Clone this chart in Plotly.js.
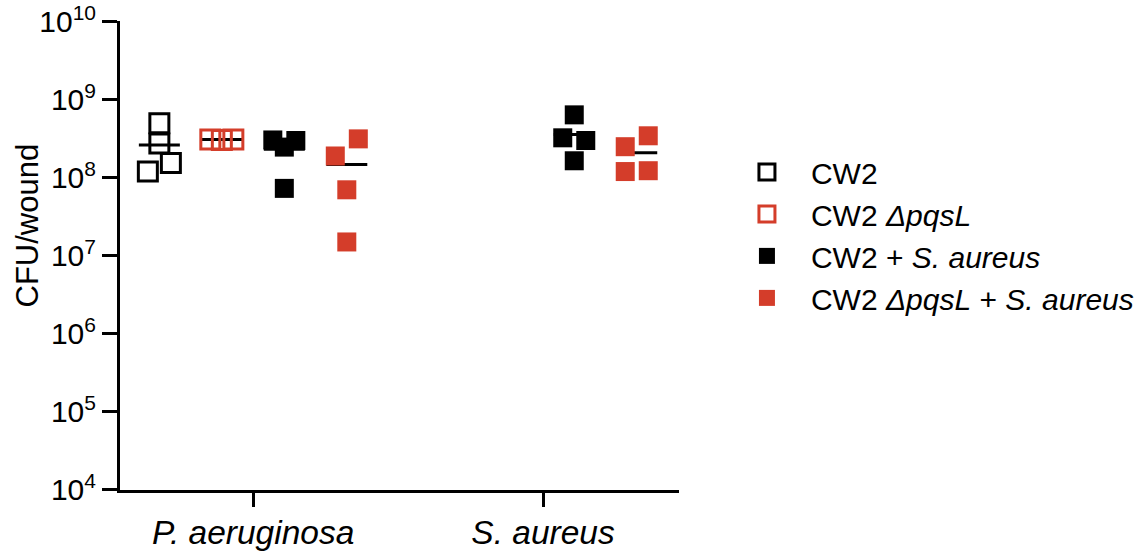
<!DOCTYPE html>
<html><head><meta charset="utf-8">
<script src="https://cdn.plot.ly/plotly-3.0.1.min.js"></script>
<style>html,body{margin:0;padding:0;background:#fff}#chart{width:1143px;height:554px}</style>
</head><body><div id="chart"></div>
<script>
// ---- data ----
const categories = ['P. aeruginosa', 'S. aureus'];
const seriesNames = ['CW2', 'CW2 <i>ΔpqsL</i>', 'CW2 + <i>S. aureus</i>', 'CW2 <i>ΔpqsL</i> + <i>S. aureus</i>'];
// CFU/wound per category (index matches categories)
const cw2 = [[5.0e8, 2.75e8, 1.2e8, 1.55e8], []];
const cw2PqsL = [[3.1e8, 3.05e8, 3.1e8], []];
const cw2SAureus = [[3.05e8, 2.47e8, 3.0e8, 7.3e7], [6.4e8, 3.25e8, 3.0e8, 1.65e8]];
const cw2PqsLSAureus = [[1.9e8, 3.15e8, 7.0e7, 1.5e7], [2.5e8, 3.45e8, 1.2e8, 1.23e8]];
const yTickVals = [1e4, 1e5, 1e6, 1e7, 1e8, 1e9, 1e10];
const yTitle = 'CFU/wound';

// ---- styles ----
const RED = '#d43d2a';
const styles = [
  {symbol: 'square-open', color: '#000000'},
  {symbol: 'square-open', color: RED},
  {symbol: 'square', color: '#000000'},
  {symbol: 'square', color: RED}
];
const allSeries = [cw2, cw2PqsL, cw2SAureus, cw2PqsLSAureus];
const colStep = 0.2155;     // distance between columns within a group (x units)
const spreadHalf = 0.0397;  // horizontal half-spread of overlapping points
const bandDecades = 0.24;   // points closer than this (log10) are spread sideways
const meanHalf = 0.0707;    // half-width of mean line

function spreadOffsets(vals) {
  const idx = vals.map((v, i) => i).sort((a, b) => vals[b] - vals[a]);
  const clusters = [];
  let cur = [];
  idx.forEach((i, k) => {
    if (k > 0 && Math.log10(vals[idx[k - 1]]) - Math.log10(vals[i]) >= bandDecades) {
      clusters.push(cur); cur = [];
    }
    cur.push(i);
  });
  if (cur.length) clusters.push(cur);
  const off = new Array(vals.length).fill(0);
  clusters.forEach(c => {
    c.sort((a, b) => a - b);
    const n = c.length;
    c.forEach((i, j) => { off[i] = n === 1 ? 0 : (j / (n - 1) - 0.5) * 2 * spreadHalf; });
  });
  return off;
}

const meanTraces = [];
const pointTraces = [];
allSeries.forEach((series, s) => {
  const xs = [], ys = [];
  series.forEach((vals, c) => {
    if (!vals.length) return;
    const center = c + (s - (allSeries.length - 1) / 2) * colStep;
    const off = spreadOffsets(vals);
    vals.forEach((v, i) => { xs.push(center + off[i]); ys.push(v); });
    const mean = vals.reduce((a, b) => a + b, 0) / vals.length;
    meanTraces.push({
      x: [center - meanHalf, center + meanHalf], y: [mean, mean],
      mode: 'lines', line: {color: '#000', width: 3}, showlegend: false, hoverinfo: 'skip'
    });
  });
  pointTraces.push({
    x: xs, y: ys, name: seriesNames[s], type: 'scatter', mode: 'markers',
    marker: styles[s].symbol === 'square-open'
      ? {symbol: 'square-open', size: 19, color: styles[s].color, line: {width: 3, color: styles[s].color}}
      : {symbol: 'square', size: 19, color: styles[s].color, line: {width: 0}}
  });
});

const FONT = 'Liberation Sans, Arial, Helvetica, sans-serif';
const layout = {
  width: 1143, height: 554,
  margin: {l: 120, r: 464, t: 21, b: 64},
  paper_bgcolor: '#fff', plot_bgcolor: '#fff',
  font: {family: FONT, color: '#000'},
  showlegend: true,
  legend: {xref: 'container', x: 0.6325, xanchor: 'left', y: 0.576, yanchor: 'middle', yref: 'container',
           itemwidth: 78, font: {family: FONT, size: 30, color: '#000'}, bgcolor: 'rgba(0,0,0,0)'},
  xaxis: {
    type: 'linear', range: [-0.459, 1.469],
    tickvals: [0, 1], ticktext: categories.map(c => '<i>' + c + '</i>'),
    showline: true, linecolor: '#000', linewidth: 3,
    ticks: 'outside', ticklen: 14, tickwidth: 3, tickcolor: '#000',
    ticklabelstandoff: -3,
    showgrid: false, zeroline: false,
    tickfont: {family: FONT, size: 33.5, color: '#000'}
  },
  yaxis: {
    type: 'log', range: [3.995, 10.01], tickvals: yTickVals,
    ticktext: yTickVals.map(v => '10<sup>' + Math.round(Math.log10(v)) + '</sup>'),
    showline: true, linecolor: '#000', linewidth: 3,
    ticks: 'outside', ticklen: 15, tickwidth: 3, tickcolor: '#000',
    showgrid: false, zeroline: false,
    tickfont: {family: FONT, size: 30, color: '#000'}
  },
  annotations: [{
    text: yTitle, textangle: -90, xref: 'paper', yref: 'paper',
    x: -0.1655, y: 0.565, xanchor: 'center', yanchor: 'middle', showarrow: false,
    font: {family: FONT, size: 31, color: '#000'}
  }]
};

Plotly.newPlot('chart', meanTraces.concat(pointTraces), layout, {displayModeBar: false, staticPlot: true});
</script>
</body></html>
